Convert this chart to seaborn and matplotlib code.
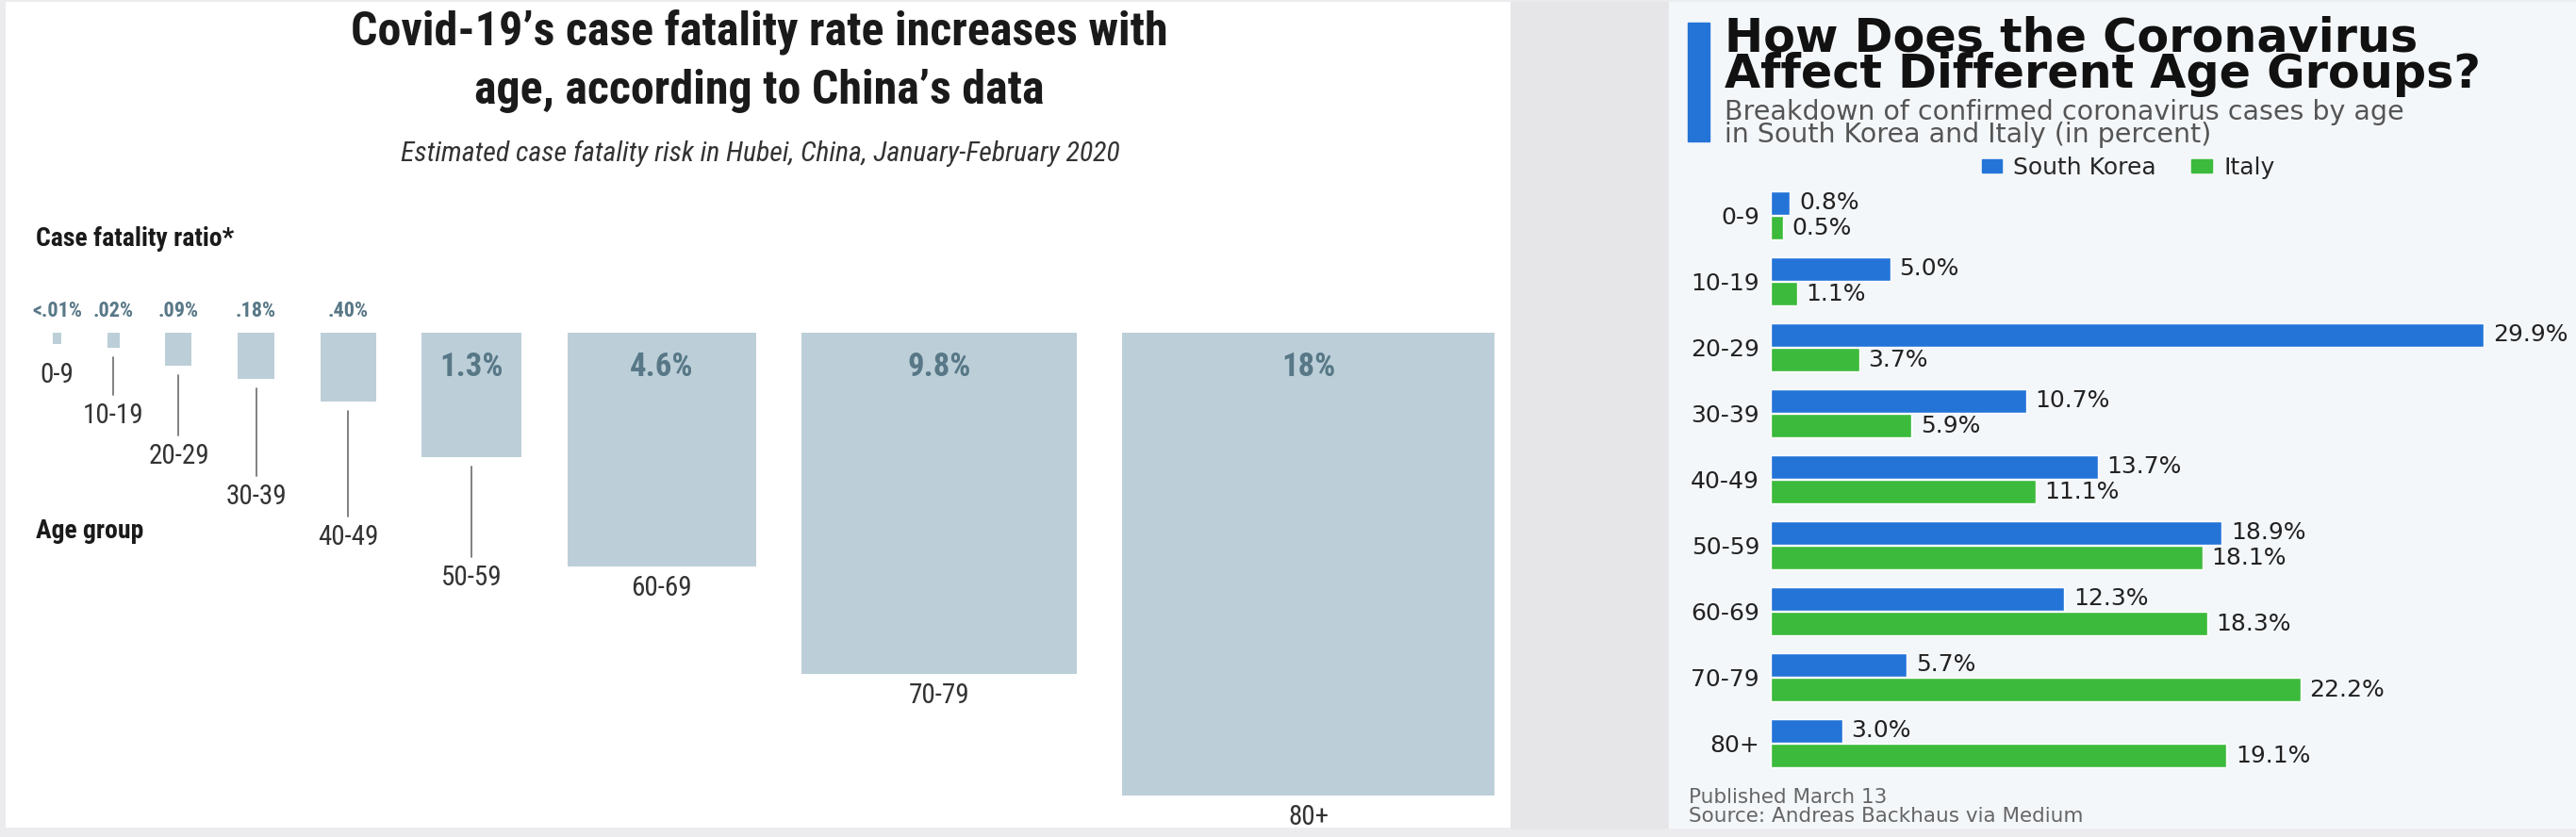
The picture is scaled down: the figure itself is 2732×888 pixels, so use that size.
import matplotlib
matplotlib.use("Agg")
import matplotlib.pyplot as plt
import numpy as np
import pandas as pd
import seaborn as sns
from matplotlib.patches import Patch, Rectangle

# left chart: estimated case fatality ratio in Hubei by age group
cfr_ages = ["0-9", "10-19", "20-29", "30-39", "40-49", "50-59", "60-69", "70-79", "80+"]
cfr_values = [0.01, 0.02, 0.09, 0.18, 0.40, 1.3, 4.6, 9.8, 18.0]
cfr_labels = ["<.01%", ".02%", ".09%", ".18%", ".40%", "1.3%", "4.6%", "9.8%", "18%"]

# right chart: share of confirmed cases by age (percent)
case_ages = ["0-9", "10-19", "20-29", "30-39", "40-49", "50-59", "60-69", "70-79", "80+"]
south_korea = [0.8, 5.0, 29.9, 10.7, 13.7, 18.9, 12.3, 5.7, 3.0]
italy = [0.5, 1.1, 3.7, 5.9, 11.1, 18.1, 18.3, 22.2, 19.1]
countries = ["South Korea", "Italy"]

W, H = 2732, 888
BLUE = "#2474d8"
GREEN = "#3cba3c"
BOX = "#bccfd8"
SLATE = "#587887"
NARROW = ["Roboto Condensed", "DejaVu Sans"]

sns.set_theme(style="white")
plt.rcParams["font.family"] = ["DejaVu Sans"]


def fx(x):
    return x / W


def fy(y):
    return 1 - y / H


fig = plt.figure(figsize=(W / 100, H / 100), dpi=100, facecolor="#ececef")

# panels
fig.add_artist(Rectangle((fx(1602), fy(878)), fx(1770) - fx(1602), fy(2) - fy(878),
                         transform=fig.transFigure, color="#e6e6e9", zorder=0))
fig.add_artist(Rectangle((fx(1770), fy(878)), 1 - fx(1770), fy(2) - fy(878),
                         transform=fig.transFigure, color="#f4f7fa", zorder=0))

# ---------------- left: area-proportional boxes ----------------
ax_l = fig.add_axes([fx(6), fy(878), fx(1602) - fx(6), fy(2) - fy(878)])
ax_l.set_xlim(6, 1602)
ax_l.set_ylim(878, 2)
ax_l.set_facecolor("white")
ax_l.set_xticks([])
ax_l.set_yticks([])
for s in ax_l.spines.values():
    s.set_visible(False)

vals = np.array(cfr_values)
sizes = 93.1 * np.sqrt(vals)
heights = 1.243 * sizes
lefts = 56 + np.concatenate([[0], np.cumsum(sizes[:-1] + 48.5)])
top = 353
ax_l.bar(lefts, heights, width=sizes, bottom=top, align="edge", color=BOX, linewidth=0)

centers = lefts + sizes / 2
bottoms = top + heights
idx = np.arange(len(vals))
label_y = np.where(idx < 6, 398 + 43 * idx, bottoms + 23)

for i, (cx, lab, age) in enumerate(zip(centers, cfr_labels, cfr_ages)):
    if sizes[i] > 80:
        ax_l.text(cx, 389, lab, ha="center", va="center", fontsize=25, fontweight="bold",
                  color=SLATE, family=NARROW)
    else:
        ax_l.text(cx, 330, lab, ha="center", va="center", fontsize=16, fontweight="bold",
                  color=SLATE, family=NARROW)
    ax_l.text(cx, label_y[i], age, ha="center", va="center", fontsize=21,
              color="#333333", family=NARROW)
    if label_y[i] - bottoms[i] > 40:
        ax_l.plot([cx, cx], [bottoms[i] + 10, label_y[i] - 22], color="#777777", lw=1.3)

ax_l.text(805, 65, "Covid-19\u2019s case fatality rate increases with\nage, according to China\u2019s data",
          ha="center", va="center", ma="center", fontsize=36, fontweight="bold",
          color="#1a1a1a", family=NARROW, linespacing=1.4)
ax_l.text(806, 163, "Estimated case fatality risk in Hubei, China, January-February 2020",
          ha="center", va="center", fontsize=21.5, style="italic", color="#333333", family=NARROW)
ax_l.text(38, 253, "Case fatality ratio*", ha="left", va="center", fontsize=20,
          fontweight="bold", color="#1a1a1a", family=NARROW)
ax_l.text(38, 563, "Age group", ha="left", va="center", fontsize=20,
          fontweight="bold", color="#1a1a1a", family=NARROW)

# ---------------- right: grouped horizontal bars ----------------
fig.add_artist(Rectangle((fx(1790), fy(150)), fx(1813) - fx(1790), fy(24) - fy(150),
                         transform=fig.transFigure, color=BLUE, zorder=1))
fig.text(fx(1829), fy(60), "How Does the Coronavirus\nAffect Different Age Groups?", ha="left",
         va="center", fontsize=35.5, fontweight="bold", color="#111111", linespacing=0.74)
fig.text(fx(1829), fy(131), "Breakdown of confirmed coronavirus cases by age\n"
         "in South Korea and Italy (in percent)", ha="left", va="center", fontsize=20.5,
         color="#555555", linespacing=0.78)

df = pd.DataFrame({
    "age": case_ages * 2,
    "share": south_korea + italy,
    "country": [countries[0]] * len(case_ages) + [countries[1]] * len(case_ages),
})

ax_r = fig.add_axes([fx(1878), fy(823.5), fx(2732) - fx(1878), fy(193.5) - fy(823.5)])
ax_r.set_facecolor("none")
sns.barplot(data=df, x="share", y="age", hue="country", orient="h", palette=[BLUE, GREEN],
            saturation=1, width=0.757, gap=0.057, ax=ax_r, legend=False)
for cont, series in zip(ax_r.containers, [south_korea, italy]):
    ax_r.bar_label(cont, labels=[f"{v:.1f}%" for v in series], padding=7,
                   fontsize=18, color="#222222")
ax_r.set_xlim(0, 854 / 25.3)
ax_r.set_ylim(len(case_ages) - 0.5, -0.5)
ax_r.set_xlabel("")
ax_r.set_ylabel("")
ax_r.set_xticks([])
ax_r.tick_params(axis="y", length=0, pad=8.6, labelsize=18, labelcolor="#222222")
for s in ax_r.spines.values():
    s.set_visible(False)

handles = [Patch(color=BLUE), Patch(color=GREEN)]
fig.legend(handles, countries, loc="center", bbox_to_anchor=(fx(2257), fy(178)), ncol=2,
           frameon=False, fontsize=18, handlelength=0.85, handleheight=0.48,
           handletextpad=0.5, columnspacing=1.5)

fig.text(fx(1791), fy(846), "Published March 13", ha="left", va="center", fontsize=15.5,
         color="#666666")
fig.text(fx(1791), fy(866), "Source: Andreas Backhaus via Medium", ha="left", va="center",
         fontsize=15.5, color="#666666")

fig.savefig("out.png", dpi=100, facecolor=fig.get_facecolor())
